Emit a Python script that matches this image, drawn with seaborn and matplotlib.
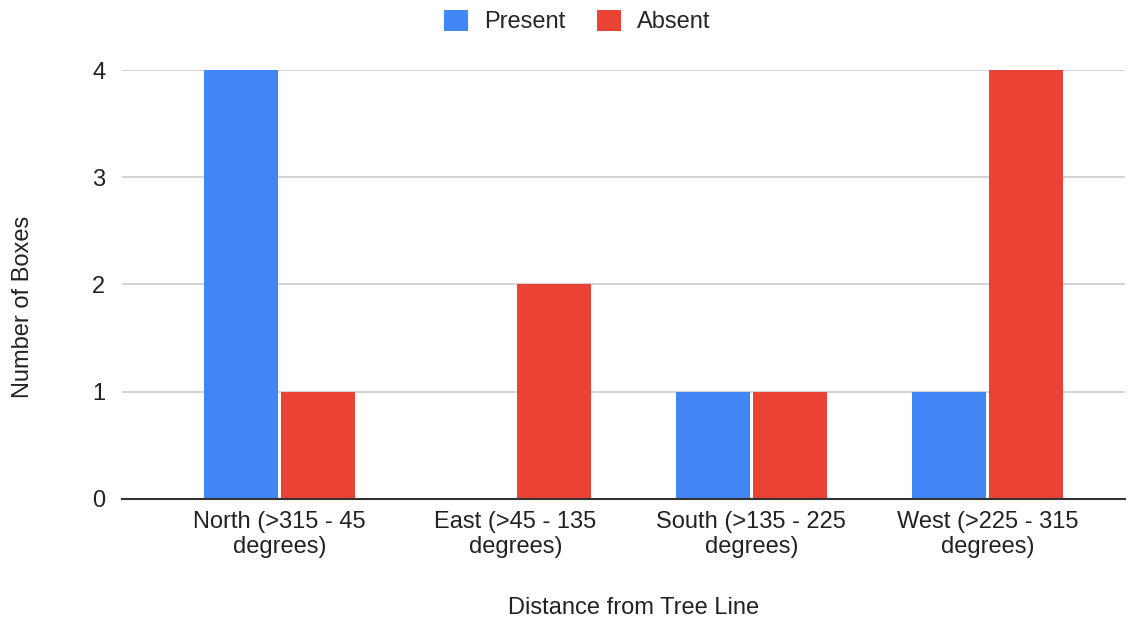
import matplotlib
matplotlib.use('Agg')
import matplotlib.pyplot as plt
from matplotlib.patches import Patch
import pandas as pd
import seaborn as sns

categories = ['North (>315 - 45\ndegrees)', 'East (>45 - 135\ndegrees)',
              'South (>135 - 225\ndegrees)', 'West (>225 - 315\ndegrees)']
present = [4, 0, 1, 1]
absent = [1, 2, 1, 4]
series = ['Present', 'Absent']
colors = ['#4285F4', '#EA4335']

df = pd.DataFrame({'Direction': categories, 'Present': present, 'Absent': absent})
long = df.melt(id_vars='Direction', var_name='Series', value_name='Boxes')

sns.set_style('white')
plt.rcParams['font.family'] = ['Liberation Sans', 'DejaVu Sans']

fs = 17
fig = plt.figure(figsize=(11.41, 6.18), dpi=100)
ax = fig.add_axes([0.1069, 0.1926, 0.8791, 0.6941])

sns.barplot(data=long, x='Direction', y='Boxes', hue='Series', hue_order=series,
            palette=colors, width=0.65, gap=0.04, saturation=1, ax=ax, legend=False,
            edgecolor='none')

ax.set_ylim(0, 4)
ax.set_xlim(-0.5 - 0.167, 3.5 + 0.083)
ax.set_yticks([0, 1, 2, 3, 4])
ax.yaxis.grid(True, color='#cccccc', linewidth=1.2)
ax.set_axisbelow(True)
for s in ['top', 'right', 'left']:
    ax.spines[s].set_visible(False)
ax.spines['bottom'].set_color('#333333')
ax.spines['bottom'].set_linewidth(1.5)
ax.spines['bottom'].set_zorder(5)
ax.tick_params(axis='both', length=0, labelsize=fs, colors='#222222')
ax.tick_params(axis='y', pad=12)
ax.tick_params(axis='x', pad=9)
for lbl in ax.get_xticklabels():
    lbl.set_linespacing(1.13)

ax.set_xlabel('Distance from Tree Line', fontsize=fs, color='#222222')
ax.set_ylabel('Number of Boxes', fontsize=fs, color='#222222')
ax.xaxis.set_label_coords(0.51, -0.228)
ax.yaxis.set_label_coords(-0.088, 0.447)

handles = [Patch(facecolor=c, edgecolor='none', label=s) for s, c in zip(series, colors)]
fig.legend(handles=handles, loc='upper center', bbox_to_anchor=(0.506, 1.019), ncol=2,
           frameon=False, fontsize=fs, handlelength=1.0, handleheight=1.0,
           handletextpad=0.7, columnspacing=1.35)

fig.savefig('out.png', dpi=100)
